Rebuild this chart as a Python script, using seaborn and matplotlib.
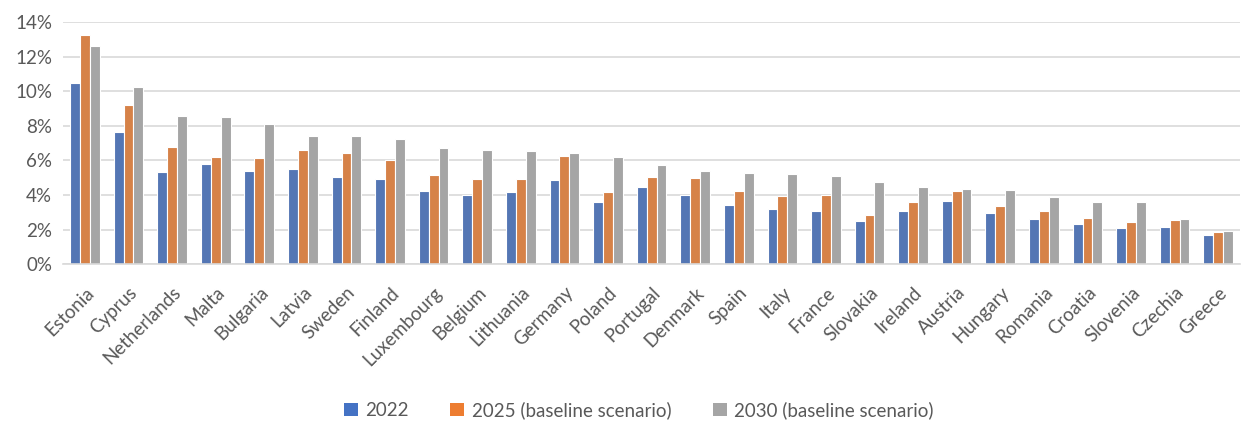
import matplotlib
matplotlib.use("Agg")
import matplotlib.pyplot as plt
import matplotlib.ticker as mticker
from matplotlib.patches import Patch
import pandas as pd
import seaborn as sns

countries = ["Estonia", "Cyprus", "Netherlands", "Malta", "Bulgaria", "Latvia", "Sweden",
             "Finland", "Luxembourg", "Belgium", "Lithuania", "Germany", "Poland", "Portugal",
             "Denmark", "Spain", "Italy", "France", "Slovakia", "Ireland", "Austria",
             "Hungary", "Romania", "Croatia", "Slovenia", "Czechia", "Greece"]
share_2022 = [10.46, 7.63, 5.34, 5.82, 5.39, 5.49, 5.03, 4.91, 4.25, 4.00, 4.16, 4.86, 3.60, 4.47,
              4.02, 3.41, 3.21, 3.10, 2.50, 3.06, 3.64, 2.95, 2.62, 2.31, 2.12, 2.16, 1.71]
share_2025 = [13.25, 9.19, 6.78, 6.20, 6.13, 6.59, 6.42, 6.01, 5.18, 4.93, 4.91, 6.24, 4.20, 5.06,
              4.99, 4.22, 3.95, 4.02, 2.85, 3.62, 4.22, 3.35, 3.06, 2.66, 2.45, 2.56, 1.87]
share_2030 = [12.62, 10.23, 8.55, 8.51, 8.11, 7.42, 7.40, 7.24, 6.72, 6.61, 6.55, 6.43, 6.20, 5.72,
              5.41, 5.26, 5.22, 5.12, 4.74, 4.45, 4.34, 4.28, 3.91, 3.60, 3.58, 2.62, 1.91]
series_names = ["2022", "2025 (baseline scenario)", "2030 (baseline scenario)"]
colors = ["#4472C4", "#ED7D31", "#A5A5A5"]

frames = []
for name, vals in zip(series_names, [share_2022, share_2025, share_2030]):
    frames.append(pd.DataFrame({"country": countries, "series": name,
                                "value": [v / 100 for v in vals]}))
df = pd.concat(frames, ignore_index=True)

sns.set_style("white")
plt.rcParams["font.family"] = ["Lato", "DejaVu Sans"]

fig = plt.figure(figsize=(12.5, 4.21), dpi=100)
ax = fig.add_axes([0.0505, 0.372, 0.9415, 0.576])

sns.barplot(data=df, x="country", y="value", hue="series", palette=colors,
            order=countries, hue_order=series_names, width=0.68, gap=0.0,
            edgecolor="white", linewidth=0.8, legend=False, ax=ax)

ax.set_ylim(0, 0.14)
ax.set_xlim(-0.5, len(countries) - 0.5)
ax.yaxis.set_major_locator(mticker.MultipleLocator(0.02))
ax.yaxis.set_major_formatter(mticker.PercentFormatter(1.0, decimals=0))
ax.grid(axis="y", color="#D9D9D9", linewidth=1.2)
ax.set_axisbelow(True)
for side in ["top", "right", "left"]:
    ax.spines[side].set_visible(False)
ax.spines["bottom"].set_color("#D9D9D9")
ax.spines["bottom"].set_linewidth(1.2)
ax.set_xlabel("")
ax.set_ylabel("")
ax.tick_params(axis="both", length=0, colors="#595959", labelsize=13.5)
ax.tick_params(axis="y", pad=8)
ax.tick_params(axis="x", pad=14)
plt.setp(ax.get_xticklabels(), rotation=45, ha="right", rotation_mode="anchor")

handles = [Patch(facecolor=c, edgecolor="none") for c in colors]
fig.legend(handles, series_names, loc="center", bbox_to_anchor=(0.511, 0.026), ncol=3,
           frameon=False, fontsize=13.5, handlelength=0.75, handleheight=0.75,
           handletextpad=0.4, columnspacing=2.2, labelcolor="#595959")

fig.savefig("out.png", dpi=100)
